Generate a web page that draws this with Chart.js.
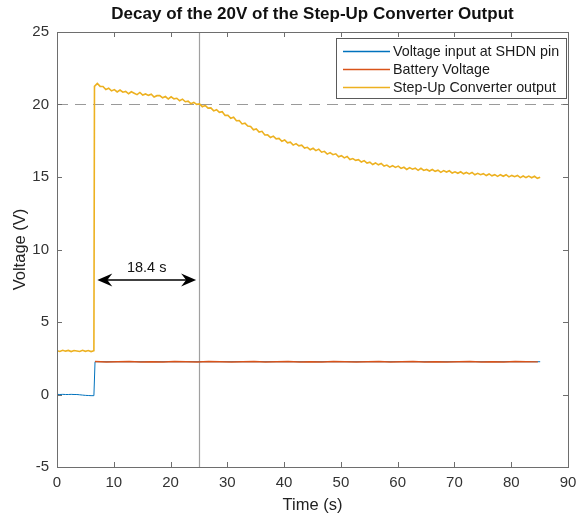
<!DOCTYPE html>
<html><head><meta charset="utf-8">
<script src="https://cdn.jsdelivr.net/npm/chart.js@4/dist/chart.umd.min.js"></script>
<style>html,body{margin:0;padding:0;background:#fff}#wrap{width:579px;height:517px;position:relative}</style>
</head><body><div id="wrap"><canvas id="c" width="579" height="517"></canvas></div>
<script>
const chartTitle = "Decay of the 20V of the Step-Up Converter Output";
const xTitle = "Time (s)";
const yTitle = "Voltage (V)";
const seriesLabels = ["Voltage input at SHDN pin", "Battery Voltage", "Step-Up Converter output"];
const seriesColors = ["#0072BD", "#D95319", "#EDB120"];
const xTicks = [0, 10, 20, 30, 40, 50, 60, 70, 80, 90];
const yTicks = [-5, 0, 5, 10, 15, 20, 25];

// sampling grid (s)
const sampleStep = 0.5;
const preStepStart = 0;      // samples before the step: 0, 0.5 ... 6.5
const postStepStart = 6.6;   // converter output samples: 6.6, 7.1 ... 85.1

// Voltage input at SHDN pin (V)
const shdnBefore = [0.01, 0.0, 0.01, 0.0, 0.0, 0.01, 0.0, 0.0, -0.02, -0.04, -0.06, -0.07, -0.08, -0.08];
const shdnAfterTimes = [6.7, 85.1];
const shdnAfter = [2.26, 2.26];

// Battery Voltage (V), every 2 s from 6.7 s
const batteryStart = 6.7;
const batteryStep = 2;
const battery = [2.27,2.25,2.26,2.28,2.25,2.26,2.24,2.27,2.26,2.25,2.27,2.26,2.24,2.26,2.27,2.25,2.26,2.28,2.25,2.26,
                 2.25,2.27,2.26,2.24,2.26,2.27,2.25,2.26,2.27,2.25,2.26,2.24,2.26,2.27,2.25,2.26,2.25,2.27,2.26,2.25];

// Step-Up Converter output (V)
const stepUpBefore = [3.02, 2.97, 3.05, 2.99, 3.04, 2.96, 3.03, 3.0, 2.97, 3.05, 2.98, 3.03, 2.96, 3.02];
const stepUpAfter = [
 21.25,21.45,21.25,21.24,21.03,21.12,20.94,21.03,20.87,21.00,20.85,20.90,20.74,20.88,20.78,20.68,20.83,20.65,20.73,20.63,
 20.71,20.52,20.61,20.62,20.46,20.55,20.38,20.53,20.39,20.43,20.26,20.37,20.19,20.23,20.05,20.15,20.01,20.04,19.85,19.94,
 19.75,19.77,19.56,19.64,19.46,19.50,19.25,19.26,19.05,19.12,18.88,18.89,18.66,18.71,18.51,18.48,18.25,18.31,18.10,18.15,
 17.90,17.91,17.72,17.82,17.63,17.66,17.46,17.55,17.36,17.40,17.20,17.30,17.15,17.20,17.00,17.05,16.88,16.98,16.82,16.92,
 16.71,16.77,16.58,16.68,16.54,16.60,16.40,16.47,16.32,16.41,16.20,16.27,16.15,16.20,16.03,16.13,15.96,16.02,15.86,15.97,
 15.84,15.93,15.75,15.82,15.68,15.78,15.66,15.75,15.59,15.67,15.52,15.65,15.54,15.61,15.46,15.60,15.45,15.52,15.41,15.52,
 15.39,15.47,15.32,15.44,15.34,15.43,15.27,15.36,15.26,15.36,15.22,15.31,15.21,15.31,15.15,15.25,15.16,15.23,15.10,15.21,
 15.08,15.16,15.04,15.16,15.05,15.16,15.01,15.11,15.02,15.11,14.96,15.07,14.96,15.06,14.95,15.05,14.91,14.98];

// annotations
const cutoffTime = 25;
const thresholdVolts = 20;
const arrowFrom = 7.1, arrowTo = 24.5, arrowVolts = 7.9;
const arrowLabel = "18.4 s";

function grid(start, step, vals) { return vals.map((v, i) => ({ x: +(start + i * step).toFixed(2), y: v })); }

const shdnData = grid(preStepStart, sampleStep, shdnBefore).concat(shdnAfterTimes.map((t, i) => ({ x: t, y: shdnAfter[i] })));
const batteryData = grid(batteryStart, batteryStep, battery);
const stepUpData = grid(preStepStart, sampleStep, stepUpBefore).concat(grid(postStepStart, sampleStep, stepUpAfter));

const FONT = "'Liberation Sans', Arial, Helvetica, sans-serif";
const AXIS_COLOR = "#6e6e6e";

const decorPlugin = {
  id: 'decor',
  beforeDatasetsDraw(chart) {
    const { ctx, chartArea: a, scales: { x, y } } = chart;
    ctx.save();
    ctx.strokeStyle = '#9a9a9a';
    ctx.lineWidth = 1.2;
    ctx.setLineDash([11, 7]);
    const yy = Math.round(y.getPixelForValue(thresholdVolts)) + 0.5;
    ctx.beginPath(); ctx.moveTo(a.left, yy); ctx.lineTo(a.right, yy); ctx.stroke();
    ctx.setLineDash([]);
    ctx.strokeStyle = '#a0a0a0';
    ctx.lineWidth = 1.2;
    const xx = Math.round(x.getPixelForValue(cutoffTime)) + 0.5;
    ctx.beginPath(); ctx.moveTo(xx, a.top); ctx.lineTo(xx, a.bottom); ctx.stroke();
    ctx.restore();
  },
  afterDraw(chart) {
    const { ctx, chartArea: a, scales: { x, y } } = chart;
    ctx.save();
    // axes box
    ctx.strokeStyle = AXIS_COLOR;
    ctx.lineWidth = 1;
    ctx.strokeRect(Math.round(a.left) + 0.5, Math.round(a.top) + 0.5, Math.round(a.right - a.left), Math.round(a.bottom - a.top));
    // inward ticks
    ctx.beginPath();
    xTicks.forEach(v => {
      const px = Math.round(x.getPixelForValue(v)) + 0.5;
      ctx.moveTo(px, a.bottom); ctx.lineTo(px, a.bottom - 5);
      ctx.moveTo(px, a.top); ctx.lineTo(px, a.top + 5);
    });
    yTicks.forEach(v => {
      const py = Math.round(y.getPixelForValue(v)) + 0.5;
      ctx.moveTo(a.left, py); ctx.lineTo(a.left + 5, py);
      ctx.moveTo(a.right, py); ctx.lineTo(a.right - 5, py);
    });
    ctx.stroke();

    // title
    ctx.fillStyle = '#111';
    ctx.textAlign = 'center';
    ctx.textBaseline = 'middle';
    ctx.font = "bold 17px " + FONT;
    ctx.fillText(chartTitle, (a.left + a.right) / 2, 14);
    // axis titles
    ctx.fillStyle = '#222';
    ctx.font = "16.5px " + FONT;
    ctx.fillText(xTitle, (a.left + a.right) / 2, 505);
    ctx.save();
    ctx.translate(20, (a.top + a.bottom) / 2);
    ctx.rotate(-Math.PI / 2);
    ctx.fillText(yTitle, 0, 0);
    ctx.restore();

    // arrow annotation
    const ax1 = x.getPixelForValue(arrowFrom), ax2 = x.getPixelForValue(arrowTo), ay = y.getPixelForValue(arrowVolts);
    ctx.strokeStyle = '#000'; ctx.fillStyle = '#000'; ctx.lineWidth = 1.6;
    ctx.beginPath(); ctx.moveTo(ax1 + 6, ay); ctx.lineTo(ax2 - 6, ay); ctx.stroke();
    function head(tx, dir) {
      ctx.beginPath();
      ctx.moveTo(tx, ay);
      ctx.lineTo(tx + dir * 15, ay - 6.5);
      ctx.lineTo(tx + dir * 10, ay);
      ctx.lineTo(tx + dir * 15, ay + 6.5);
      ctx.closePath(); ctx.fill();
    }
    head(ax1, 1); head(ax2, -1);
    ctx.font = "14.5px " + FONT;
    ctx.fillStyle = '#111';
    ctx.fillText(arrowLabel, (ax1 + ax2) / 2, ay - 12);

    // legend
    const lx = Math.round(a.right) - 232, ly = Math.round(a.top) + 6, lw = 230, lh = 60;
    ctx.fillStyle = '#fff';
    ctx.fillRect(lx, ly, lw, lh);
    ctx.strokeStyle = '#5a5a5a'; ctx.lineWidth = 1;
    ctx.strokeRect(lx + 0.5, ly + 0.5, lw, lh);
    ctx.font = "14.3px " + FONT;
    ctx.textAlign = 'left';
    chart.data.datasets.forEach((ds, i) => {
      const ry = ly + 13 + i * 18;
      ctx.strokeStyle = ds.borderColor; ctx.lineWidth = 1.5;
      ctx.beginPath(); ctx.moveTo(lx + 7, ry + 0.5); ctx.lineTo(lx + 54, ry + 0.5); ctx.stroke();
      ctx.fillStyle = '#1a1a1a';
      ctx.fillText(ds.label, lx + 57, ry + 1);
    });
    ctx.restore();
  }
};

new Chart(document.getElementById('c'), {
  type: 'line',
  data: {
    datasets: [
      { label: seriesLabels[0], data: shdnData, borderColor: seriesColors[0], borderWidth: 1, order: 2 },
      { label: seriesLabels[1], data: batteryData, borderColor: seriesColors[1], borderWidth: 1.5, order: 1 },
      { label: seriesLabels[2], data: stepUpData, borderColor: seriesColors[2], borderWidth: 1.6, order: 0 }
    ]
  },
  options: {
    responsive: false,
    animation: false,
    elements: { point: { radius: 0 }, line: { tension: 0 } },
    layout: { padding: { top: 32, right: 11, left: 0, bottom: 0 } },
    plugins: { legend: { display: false }, title: { display: false }, tooltip: { enabled: false } },
    scales: {
      x: {
        type: 'linear', min: 0, max: 90,
        afterBuildTicks: s => { s.ticks = xTicks.map(v => ({ value: v })); },
        afterFit: s => { s.height = 50; s.paddingLeft = 0; s.paddingRight = 0; },
        grid: { display: false, drawTicks: false },
        border: { display: false },
        ticks: { font: { family: FONT, size: 15 }, color: '#333', padding: 7, maxRotation: 0, autoSkip: false }
      },
      y: {
        type: 'linear', min: -5, max: 25,
        afterBuildTicks: s => { s.ticks = yTicks.map(v => ({ value: v })); },
        afterFit: s => { s.width = 57; s.paddingTop = 0; s.paddingBottom = 0; },
        grid: { display: false, drawTicks: false },
        border: { display: false },
        ticks: { font: { family: FONT, size: 15 }, color: '#333', padding: 8 }
      }
    }
  },
  plugins: [decorPlugin]
});
</script>
</body></html>
